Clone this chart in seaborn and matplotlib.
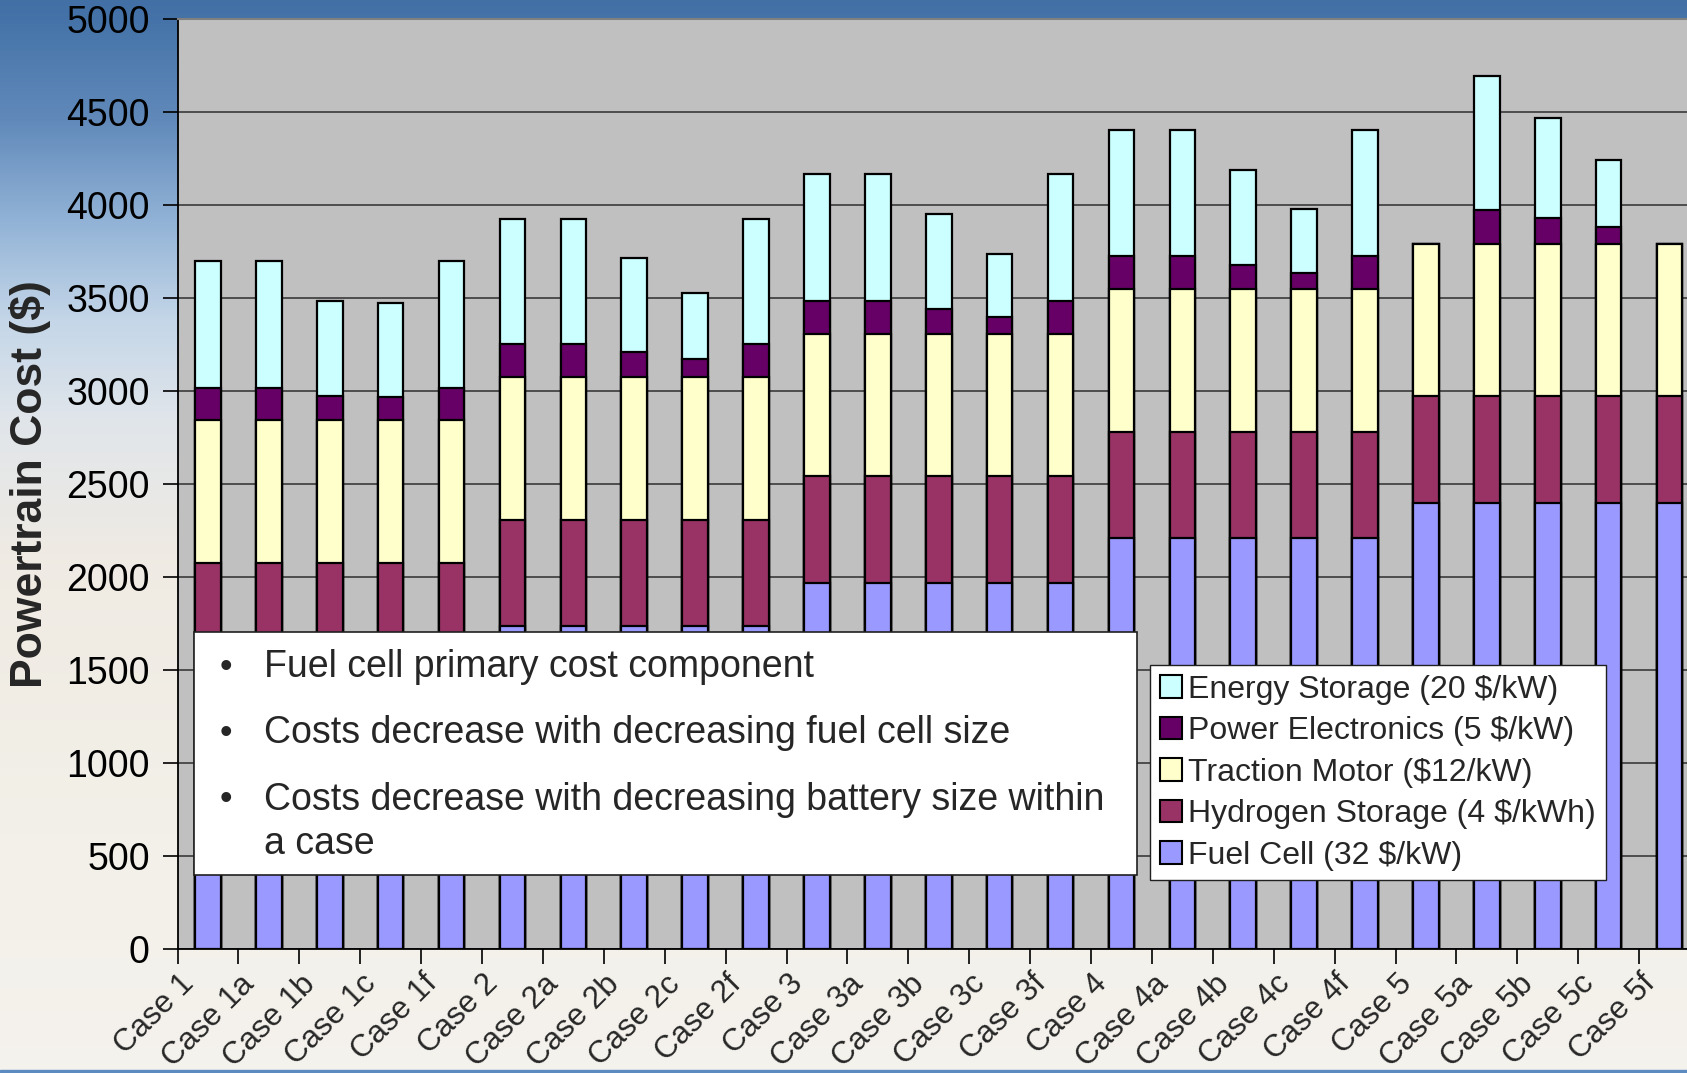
import numpy as np
import pandas as pd
import matplotlib
matplotlib.use("Agg")
import matplotlib.pyplot as plt
from matplotlib.patches import Patch, Rectangle
from matplotlib.transforms import ScaledTranslation
import seaborn as sns

# ---- data ----
cases = ["Case 1", "Case 1a", "Case 1b", "Case 1c", "Case 1f",
         "Case 2", "Case 2a", "Case 2b", "Case 2c", "Case 2f",
         "Case 3", "Case 3a", "Case 3b", "Case 3c", "Case 3f",
         "Case 4", "Case 4a", "Case 4b", "Case 4c", "Case 4f",
         "Case 5", "Case 5a", "Case 5b", "Case 5c", "Case 5f"]

fuel_cell = [1500, 1500, 1500, 1500, 1500,
             1735, 1735, 1735, 1735, 1735,
             1968, 1968, 1968, 1968, 1968,
             2207, 2207, 2207, 2207, 2207,
             2400, 2400, 2400, 2400, 2400]
hydrogen_storage = [574, 574, 574, 574, 574,
                    572, 572, 572, 572, 572,
                    574, 574, 574, 574, 574,
                    574, 574, 574, 574, 574,
                    574, 574, 574, 574, 574]
traction_motor = [768, 768, 768, 768, 768,
                  768, 768, 768, 768, 768,
                  766, 766, 766, 766, 766,
                  767, 767, 767, 767, 767,
                  816, 816, 816, 816, 816]
power_electronics = [173, 173, 131, 126, 173,
                     176, 176, 135, 95, 176,
                     175, 175, 134, 91, 175,
                     176, 176, 131, 88, 176,
                     0, 182, 138, 93, 0]
energy_storage = [682, 682, 511, 505, 682,
                  676, 676, 505, 357, 676,
                  681, 681, 507, 339, 681,
                  677, 677, 509, 341, 677,
                  0, 719, 541, 358, 0]

components = ["Fuel Cell (32 $/kW)", "Hydrogen Storage (4 $/kWh)",
              "Traction Motor ($12/kW)", "Power Electronics (5 $/kW)",
              "Energy Storage (20 $/kW)"]
colors = ["#9999FF", "#993366", "#FFFFCC", "#660066", "#CCFFFF"]

bullets = ["Fuel cell primary cost component",
           "Costs decrease with decreasing fuel cell size",
           "Costs decrease with decreasing battery size within\na case"]

df = pd.DataFrame({"case": cases, "fc": fuel_cell, "h2": hydrogen_storage,
                   "tm": traction_motor, "pe": power_electronics,
                   "es": energy_storage})
stack = df[["fc", "h2", "tm", "pe", "es"]].cumsum(axis=1)

sns.set_theme(style="ticks")
plt.rcParams["font.family"] = ["Liberation Sans", "DejaVu Sans"]

W, H = 1687, 1073
fig = plt.figure(figsize=(W / 100, H / 100), dpi=100)

# slide background: blue at the top fading into a pale cream
bg = fig.add_axes([0, 0, 1, 1], zorder=-5)
ys = np.arange(H)
stops = [0, 19, 120, 220, 320, 420, 560, 800, H]
rgb = np.array([[0.26, 0.44, 0.65], [0.27, 0.45, 0.66], [0.38, 0.54, 0.73],
                [0.57, 0.70, 0.84], [0.77, 0.84, 0.91], [0.88, 0.90, 0.92],
                [0.94, 0.92, 0.89], [0.95, 0.94, 0.91], [0.96, 0.95, 0.93]])
col = np.stack([np.interp(ys, stops, rgb[:, i]) for i in range(3)], axis=1)
img = np.repeat(col[:, None, :], 8, axis=1)
bg.imshow(img, aspect="auto", extent=[0, 1, 0, 1], origin="upper")
bg.axhspan(0, 3 / H, color="#5B8BC0")
bg.set_xlim(0, 1)
bg.set_ylim(0, 1)
bg.axis("off")

# plot area (runs off the right edge like the slide)
left, top, bottom, cat_w = 177.5, 19, 949, 60.9
ax = fig.add_axes([left / W, 1 - bottom / H, 25 * cat_w / W, (bottom - top) / H])
ax.set_facecolor("#C0C0C0")

layers = ["es", "pe", "tm", "h2", "fc"]
for key, c in zip(layers, colors[::-1]):
    sns.barplot(x=df["case"], y=stack[key], color=c, saturation=1,
                width=0.42, edgecolor="black", linewidth=1.6, ax=ax,
                errorbar=None)

ax.set_xlim(-0.5, len(cases) - 0.5)
ax.set_ylim(0, 5000)
ax.set_yticks(np.arange(0, 5001, 500))
ax.yaxis.grid(True, color="#3a3a3a", linewidth=1.2)
ax.set_axisbelow(True)
ax.set_xlabel("")
ax.set_ylabel("Powertrain Cost ($)", fontsize=32, fontweight="bold")
ax.yaxis.set_label_coords(-0.083, 0.5)

for side in ["left", "bottom"]:
    ax.spines[side].set_color("black")
    ax.spines[side].set_linewidth(1.3)
ax.spines["top"].set_visible(True)
ax.spines["top"].set_color("#808080")
ax.spines["top"].set_linewidth(1.5)
ax.spines["right"].set_visible(False)

ax.tick_params(axis="y", length=11, width=1.2, color="black",
               labelsize=27, pad=9, labelcolor="black")
ax.set_xticks(range(len(cases)))
ax.set_xticks(np.arange(-0.5, len(cases), 1), minor=True)
ax.tick_params(axis="x", which="major", length=0, pad=22, labelsize=22.5)
ax.tick_params(axis="x", which="minor", length=11, width=1.2, color="black")
ax.set_xticklabels(cases, rotation=45, ha="right", va="center",
                   rotation_mode="anchor")
shift = ScaledTranslation(-0.19, 0, fig.dpi_scale_trans)
for lbl in ax.get_xticklabels():
    lbl.set_transform(lbl.get_transform() + shift)

# bullet text box
fig.add_artist(Rectangle((194 / W, 1 - 875 / H), (1137 - 194) / W,
                         (875 - 632) / H, transform=fig.transFigure,
                         facecolor="white", edgecolor="#202020",
                         linewidth=1.2, zorder=3))
for txt, yc in zip(bullets, [667, 733, 800]):
    fig.text(220 / W, 1 - yc / H, "•", fontsize=26, va="center",
             ha="left", zorder=4)
    fig.text(264 / W, 1 - (yc - 18) / H, txt, fontsize=27, va="top",
             ha="left", linespacing=1.3, zorder=4)

# legend (same order as the reference)
handles = [Patch(facecolor=c, edgecolor="black", linewidth=1.5)
           for c in colors[::-1]]
leg = fig.legend(handles, components[::-1], loc="upper left",
                 bbox_to_anchor=(1150 / W, 1 - 665 / H), fontsize=23,
                 frameon=True, fancybox=False, framealpha=1,
                 edgecolor="#202020", handlelength=0.7, handleheight=0.7,
                 handletextpad=0.2, labelspacing=0.36, borderpad=0.3,
                 borderaxespad=0)
leg.get_frame().set_linewidth(1.0)
leg.set_zorder(5)

fig.savefig("out.png", dpi=100)
